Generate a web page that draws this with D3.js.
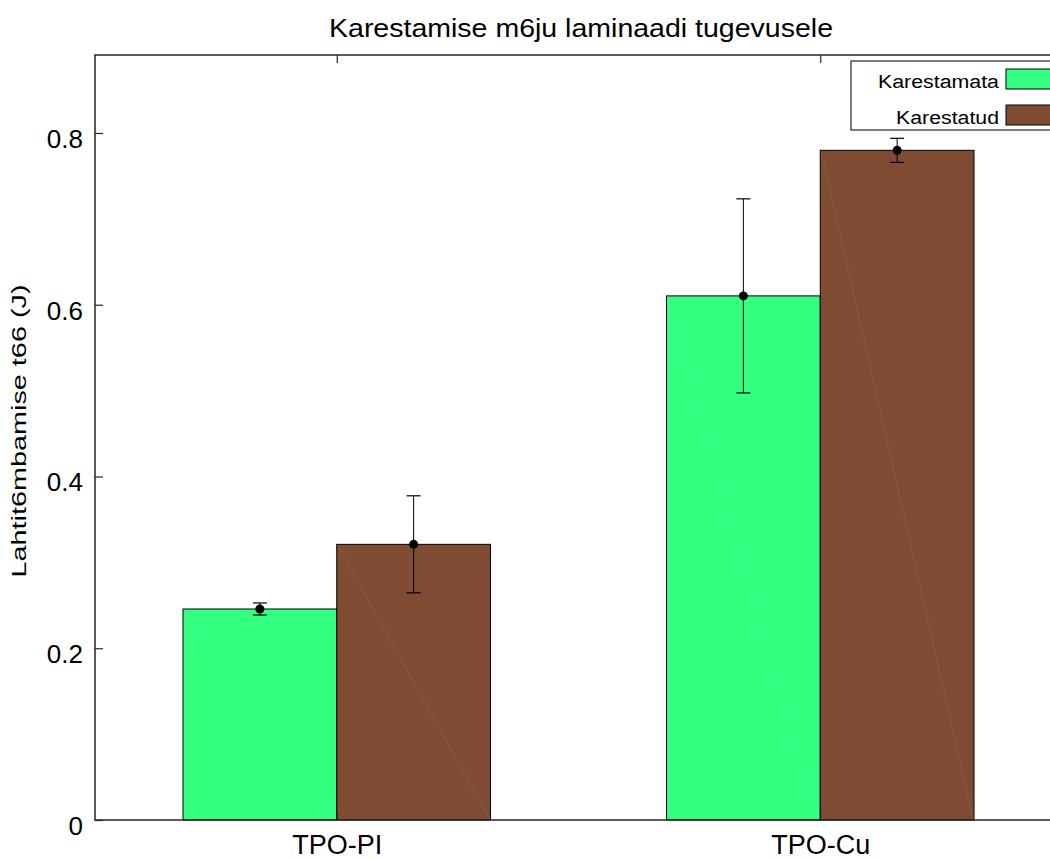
<!DOCTYPE html>
<html><head><meta charset="utf-8">
<script src="https://cdn.jsdelivr.net/npm/d3@7"></script>
<style>body{margin:0;background:#fff;overflow:hidden}svg{display:block}text{font-family:"Liberation Sans",Arial,sans-serif}</style>
</head><body>
<script>
const categories = ["TPO-PI", "TPO-Cu"];
const seriesNames = ["Karestamata", "Karestatud"];
const seriesColors = ["#33ff80", "#7f4c33"];
const karestamata = [0.2457, 0.6103];
const karestatud = [0.3210, 0.7798];
const errKarestamata = [0.007, 0.113];
const errKarestatud = [0.0565, 0.014];
const yTicks = [0, 0.2, 0.4, 0.6, 0.8];
const titleText = "Karestamise m6ju laminaadi tugevusele";
const yLabel = "Lahtit6mbamise t66 (J)";

const W = 1050, H = 859;
const L = 95, T = 55, R = 1062, B = 820;
const svg = d3.select("body").append("svg").attr("width", W).attr("height", H);

const x = d3.scaleLinear().domain([0.5, 2.5]).range([L, R]);
const y = d3.scaleLinear().domain([0, 0.8908]).range([B, T]);
const barW = 0.318;
const offsets = [-barW/2, barW/2];
const values = [karestamata, karestatud];
const errs = [errKarestamata, errKarestatud];

const g = svg.append("g");
values.forEach((vals, s) => {
  vals.forEach((v, i) => {
    const cx = (i + 1) + offsets[s];
    const x0 = x(cx - barW/2), x1 = x(cx + barW/2);
    g.append("rect").attr("x", x0).attr("y", y(v)).attr("width", x1 - x0).attr("height", y(0) - y(v))
      .attr("fill", seriesColors[s]).attr("stroke", "#000").attr("stroke-width", 1);
    g.append("line").attr("x1", x0 + 1).attr("y1", y(v) + 1).attr("x2", x1 - 1).attr("y2", y(0) - 1)
      .attr("stroke", s === 1 ? "#a0705a" : "#5fffa0").attr("stroke-width", 1).attr("opacity", 0.35);
  });
});
// error bars
values.forEach((vals, s) => {
  vals.forEach((v, i) => {
    const cx = x((i + 1) + offsets[s]);
    const e = errs[s][i];
    const cap = 7;
    g.append("line").attr("x1", cx).attr("x2", cx).attr("y1", y(v + e)).attr("y2", y(v - e)).attr("stroke", "#000").attr("stroke-width", 1);
    [v + e, v - e].forEach(yy => g.append("line").attr("x1", cx - cap).attr("x2", cx + cap).attr("y1", y(yy)).attr("y2", y(yy)).attr("stroke", "#000").attr("stroke-width", 1.2));
    g.append("circle").attr("cx", cx).attr("cy", y(v)).attr("r", 4.5).attr("fill", "#000");
  });
});

// frame
svg.append("rect").attr("x", L).attr("y", T).attr("width", R - L).attr("height", B - T)
  .attr("fill", "none").attr("stroke", "#262626").attr("stroke-width", 1.5);

// y axis
const yAxis = d3.axisLeft(y).tickValues(yTicks).tickSizeInner(-8).tickSizeOuter(0).tickPadding(12)
  .tickFormat(d => d === 0 ? "0" : d3.format(".1f")(d));
const ya = svg.append("g").attr("transform", `translate(${L},0)`).call(yAxis);
ya.select(".domain").remove();
ya.selectAll("line").attr("stroke", "#262626").attr("stroke-width", 1.2);
ya.selectAll("text").attr("font-size", 26).attr("fill", "#000").attr("dy", "0.55em");

// x axis bottom
const xAxis = d3.axisBottom(x).tickValues([1, 2]).tickSizeInner(-8).tickSizeOuter(0).tickPadding(15)
  .tickFormat((d) => categories[d - 1]);
const xa = svg.append("g").attr("transform", `translate(0,${B})`).call(xAxis);
xa.select(".domain").remove();
xa.selectAll("line").attr("stroke", "#262626").attr("stroke-width", 1.2);
xa.selectAll("text").attr("font-size", 27).attr("fill", "#000");
// top ticks
const xTop = d3.axisTop(x).tickValues([1, 2]).tickSizeInner(-8).tickSizeOuter(0).tickFormat("");
const xt = svg.append("g").attr("transform", `translate(0,${T})`).call(xTop);
xt.select(".domain").remove();
xt.selectAll("line").attr("stroke", "#262626").attr("stroke-width", 1.2);

// title
svg.append("text").attr("x", 581).attr("y", 37).attr("text-anchor", "middle")
  .attr("font-size", 26).attr("textLength", 504).attr("lengthAdjust", "spacingAndGlyphs")
  .attr("fill", "#000").text(titleText);
// y label
svg.append("text").attr("transform", `translate(26,${431}) rotate(-90)`).attr("text-anchor", "middle")
  .attr("font-size", 21).attr("textLength", 293).attr("lengthAdjust", "spacingAndGlyphs")
  .attr("fill", "#000").text(yLabel);

// legend
const lg = svg.append("g");
lg.append("rect").attr("x", 851).attr("y", 61).attr("width", 260).attr("height", 69)
  .attr("fill", "#fff").attr("stroke", "#262626").attr("stroke-width", 1.2);
const legBase = [88, 124];
seriesNames.forEach((n, i) => {
  const tw = i === 0 ? 121 : 103;
  lg.append("text").attr("x", 999 - tw).attr("y", legBase[i])
    .attr("font-size", 18).attr("textLength", tw).attr("lengthAdjust", "spacingAndGlyphs")
    .attr("fill", "#000").text(n);
  lg.append("rect").attr("x", 1006).attr("y", legBase[i] - 19).attr("width", 80).attr("height", 20)
    .attr("fill", seriesColors[i]).attr("stroke", "#000").attr("stroke-width", 1);
});
</script>
</body></html>
